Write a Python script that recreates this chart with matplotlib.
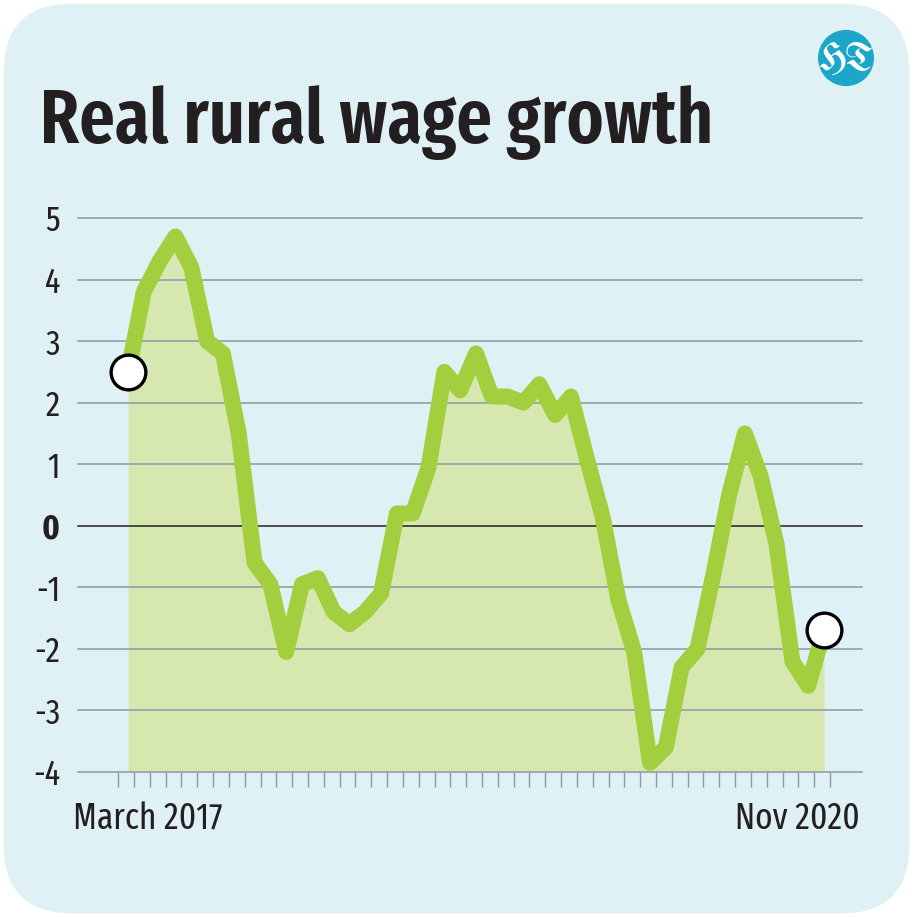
import numpy as np
import matplotlib
matplotlib.use("Agg")
import matplotlib.pyplot as plt
from matplotlib.patches import FancyBboxPatch, Circle

# monthly real rural wage growth, % (March 2017 .. Nov 2020)
values = [2.5, 3.8, 4.3, 4.7, 4.2, 3.0, 2.8, 1.5, -0.6, -0.95,
          -2.05, -0.95, -0.85, -1.4, -1.6, -1.4, -1.1, 0.2, 0.2, 0.95,
          2.5, 2.2, 2.8, 2.1, 2.1, 2.0, 2.3, 1.8, 2.1, 1.1,
          0.15, -1.2, -2.05, -3.85, -3.6, -2.3, -2.0, -0.8, 0.5, 1.5,
          0.8, -0.3, -2.2, -2.6, -1.7]
y_ticks = [5, 4, 3, 2, 1, 0, -1, -2, -3, -4]
first_label = "March 2017"
last_label = "Nov 2020"
title = "Real rural wage growth"

BG = "#dff1f5"
LINE = "#a3cf3f"
FILL = "#d6e8b0"
GRID = "#8c98a4"
INK = "#231f20"

plt.rcParams["font.family"] = ["Fira Sans Extra Condensed", "DejaVu Sans"]

fig = plt.figure(figsize=(9.13, 9.17), dpi=100)
fig.patch.set_facecolor("white")
bg = FancyBboxPatch((0.004, 0.004), 0.992, 0.992,
                    boxstyle="round,pad=0,rounding_size=0.075",
                    transform=fig.transFigure, facecolor=BG, edgecolor="none",
                    zorder=-10)
fig.patches.append(bg)

W, H = 913, 917
ax = fig.add_axes([78 / W, (H - 772) / H, (862 - 78) / W, 554 / H])
ax.set_facecolor("none")

x = np.arange(len(values))
ax.set_xlim(-50 / 15.82, len(values) - 1 + 38 / 15.82)
ax.set_ylim(-4, 5)

for t in y_ticks:
    ax.axhline(t, color=INK if t == 0 else GRID, lw=1.1, zorder=1, clip_on=False)

ax.fill_between(x, values, -4, color=FILL, lw=0, zorder=0.5)
ax.plot(x, values, color=LINE, lw=11.5, solid_joinstyle="round",
        solid_capstyle="butt", zorder=3, clip_on=False)
ax.plot([x[0], x[-1]], [values[0], values[-1]], "o", ms=25, mfc="white",
        mec="black", mew=2.4, zorder=4, clip_on=False)

for s in ax.spines.values():
    s.set_visible(False)

ax.set_yticks(y_ticks)
ax.set_yticklabels([str(t) for t in y_ticks], fontsize=25, color=INK)
for lab in ax.get_yticklabels():
    if lab.get_text() == "0":
        lab.set_fontweight("bold")
ax.tick_params(axis="y", length=0, pad=13)

ax.set_xticks([])
ax.set_xticks(np.arange(len(values) + 1) - 0.62, minor=True)
ax.tick_params(axis="x", which="minor", length=11, width=1.0, color=GRID,
               direction="out", pad=0)

fig.text(73 / W, 1 - 829 / H, first_label, fontsize=26, color=INK,
         ha="left", va="baseline")
fig.text(860 / W, 1 - 829 / H, last_label, fontsize=26, color=INK,
         ha="right", va="baseline")
fig.text(40 / W, 1 - 143 / H, title, fontsize=55, fontweight=600,
         color=INK, ha="left", va="baseline")

# HT badge
logo = Circle((846 / W, 1 - 58 / H), 28 / W, transform=fig.transFigure,
              facecolor="#1ca6c8", edgecolor="none")
fig.patches.append(logo)
fig.text(846 / W, 1 - 60 / H, "HT", fontsize=27, fontweight="bold",
         family=["UnifrakturMaguntia", "DejaVu Serif"], color="white",
         ha="center", va="center")

fig.savefig("out.png", dpi=100, facecolor=fig.get_facecolor())
